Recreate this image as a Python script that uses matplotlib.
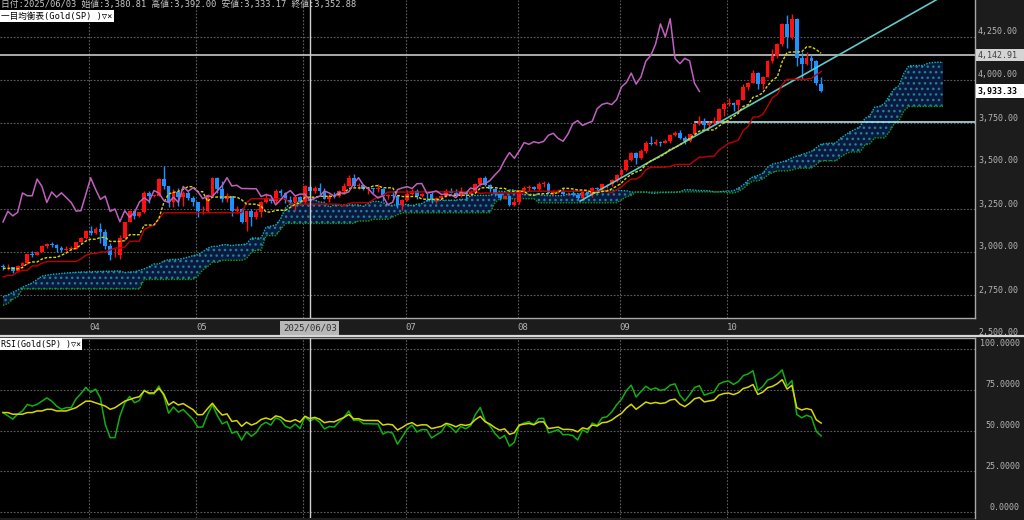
import numpy as np
import matplotlib
matplotlib.use("Agg")
import matplotlib.pyplot as plt
from matplotlib import transforms
from matplotlib.patches import Rectangle
from matplotlib.lines import Line2D

# ---------------- data (daily Gold spot, weekday index 0 = 2025/03/06) ----------------
opens = [2920, 2910, 2910, 2889, 2916, 2934, 2988, 2984, 3001, 3034, 3048, 3043, 3022, 3012, 3019, 3019, 3057, 3084,
         3124, 3113, 3134, 3114, 3037, 2982, 2982, 3082, 3175, 3237, 3210, 3230, 3343, 3327, 3327, 3424, 3381, 3288, 3349, 3319, 3344, 3316,
         3288, 3238, 3240, 3334, 3431, 3365, 3306, 3325, 3236, 3250, 3176, 3240, 3202, 3230, 3290, 3315, 3295, 3357, 3343, 3300, 3288, 3318,
         3289, 3380.81, 3353, 3373, 3352, 3310, 3326, 3323, 3355, 3386, 3432, 3384, 3388, 3369, 3369, 3368, 3368, 3323, 3333, 3327, 3274,
         3303, 3338, 3357, 3326, 3337, 3336, 3301, 3313, 3324, 3355, 3343, 3324, 3347, 3339, 3350, 3397, 3432, 3388, 3368, 3337, 3314, 3326, 3275,
         3289, 3363, 3373, 3380, 3369, 3397, 3398, 3342, 3348, 3355, 3335, 3336, 3332, 3316, 3348, 3339, 3372, 3365, 3393, 3397, 3416,
         3448, 3477, 3533, 3578, 3545, 3587, 3636, 3626, 3641, 3634, 3643, 3679, 3690, 3660, 3644, 3685, 3746, 3764, 3736, 3749, 3760, 3833,
         3858, 3866, 3857, 3886, 3960, 3985, 4040, 3976, 4018, 4110, 4142, 4209, 4326, 4251, 4356, 4125, 4095, 4126, 4111, 3977]
highs = [2930, 2930, 2915, 2923, 2940, 2990, 3005, 3004, 3038, 3055, 3057, 3047, 3034, 3033, 3032, 3060, 3087, 3128,
         3149, 3148, 3167, 3136, 3055, 3023, 3099, 3176, 3245, 3245, 3233, 3357, 3357, 3330, 3430, 3500, 3386, 3367, 3371, 3352, 3353, 3328,
         3290, 3269, 3336, 3437, 3435, 3414, 3345, 3325, 3265, 3256, 3240, 3252, 3250, 3295, 3345, 3325, 3365, 3364, 3347, 3325, 3330, 3325,
         3392, 3392.00, 3385, 3403, 3375, 3340, 3349, 3360, 3399, 3446, 3452, 3403, 3395, 3379, 3375, 3398, 3370, 3339, 3350, 3329, 3308,
         3358, 3365, 3365, 3345, 3345, 3346, 3318, 3330, 3369, 3375, 3366, 3377, 3352, 3361, 3402, 3434, 3439, 3396, 3373, 3345, 3334, 3334, 3315,
         3363, 3385, 3390, 3385, 3409, 3410, 3405, 3359, 3369, 3375, 3347, 3358, 3345, 3350, 3351, 3379, 3376, 3394, 3398, 3423, 3454,
         3490, 3540, 3580, 3580, 3600, 3646, 3675, 3658, 3643, 3655, 3685, 3703, 3707, 3675, 3686, 3750, 3791, 3778, 3761, 3783, 3835, 3872,
         3895, 3875, 3889, 3977, 3990, 4059, 4045, 4022, 4116, 4180, 4218, 4330, 4380, 4381, 4360, 4160, 4162, 4146, 4114, 4017]
lows = [2896, 2898, 2880, 2881, 2905, 2932, 2970, 2982, 2998, 3023, 3028, 3000, 3001, 3005, 3012, 3016, 3054, 3076,
        3100, 3105, 3054, 3015, 2956, 2970, 2957, 3072, 3175, 3193, 3205, 3228, 3283, 3320, 3325, 3366, 3260, 3260, 3266, 3268, 3300, 3268,
        3202, 3223, 3230, 3317, 3343, 3288, 3292, 3208, 3227, 3171, 3120, 3154, 3190, 3205, 3285, 3283, 3287, 3325, 3285, 3280, 3245, 3271,
        3280, 3333.17, 3345, 3340, 3307, 3293, 3315, 3320, 3335, 3381, 3380, 3366, 3362, 3340, 3342, 3348, 3295, 3311, 3316, 3255, 3247,
        3297, 3331, 3311, 3322, 3296, 3287, 3283, 3310, 3322, 3341, 3321, 3319, 3310, 3332, 3345, 3383, 3381, 3351, 3324, 3301, 3308, 3268, 3268,
        3281, 3346, 3356, 3359, 3363, 3380, 3341, 3331, 3343, 3331, 3330, 3323, 3311, 3312, 3325, 3322, 3351, 3351, 3370, 3385, 3408,
        3436, 3470, 3527, 3511, 3540, 3578, 3620, 3622, 3615, 3632, 3632, 3675, 3655, 3628, 3640, 3680, 3738, 3717, 3722, 3740, 3757, 3792,
        3849, 3820, 3818, 3884, 3940, 3980, 3945, 3947, 4016, 4097, 4130, 4198, 4186, 4240, 4080, 4004, 4090, 4063, 3972, 3930]
closes = [2910, 2910, 2889, 2916, 2934, 2988, 2984, 3001, 3034, 3048, 3043, 3022, 3012, 3019, 3019, 3057, 3084, 3124,
          3113, 3134, 3114, 3037, 2982, 2982, 3082, 3175, 3237, 3210, 3230, 3343, 3327, 3327, 3424, 3381, 3288, 3349, 3319, 3344, 3316, 3288,
          3238, 3240, 3334, 3431, 3365, 3306, 3325, 3236, 3250, 3176, 3240, 3202, 3230, 3290, 3315, 3295, 3357, 3343, 3300, 3288, 3318, 3289,
          3381, 3352.88, 3373, 3352, 3310, 3326, 3323, 3355, 3386, 3432, 3384, 3388, 3369, 3369, 3368, 3368, 3323, 3333, 3327, 3274, 3303,
          3338, 3357, 3326, 3337, 3336, 3301, 3313, 3324, 3355, 3343, 3324, 3347, 3339, 3350, 3397, 3432, 3388, 3368, 3337, 3314, 3326, 3275, 3289,
          3363, 3373, 3380, 3369, 3397, 3398, 3342, 3348, 3355, 3335, 3336, 3332, 3316, 3348, 3339, 3372, 3365, 3393, 3397, 3416, 3448,
          3477, 3533, 3578, 3545, 3587, 3636, 3626, 3641, 3634, 3643, 3679, 3690, 3660, 3644, 3685, 3746, 3764, 3736, 3749, 3760, 3833, 3858,
          3866, 3857, 3886, 3960, 3985, 4040, 3976, 4018, 4110, 4142, 4209, 4326, 4251, 4356, 4125, 4095, 4126, 4111, 3981, 3933.33]

tenkan_early = [2905, 2905, 2905, 2902, 2910, 2935, 2942, 2942]
kijun_early = [2855, 2864, 2864, 2885, 2894, 2894, 2919, 2919, 2935, 2944, 2945, 2945, 2945, 2945, 2945,
               2946, 2960, 2980, 2991, 2991, 3000, 3000, 3012, 3023, 3023]
span_a_early = [2738, 2750, 2765, 2779, 2795, 2808, 2820, 2840, 2860, 2865, 2870, 2872, 2875, 2878, 2880,
                2882, 2884, 2884, 2885, 2886, 2887, 2888, 2888, 2889, 2890]
span_b_early = [2690, 2700, 2725, 2740] + [2785] * 25 + [2840] * 11 + [2860, 2895, 2915, 2940, 2940] + [2952] * 5 + \
               [2962, 2998, 3010, 3010, 3095, 3095, 3095, 3131] + [3166] * 15 + [3180] * 3
rsi14_early = [61, 59, 57, 60, 62, 66, 65, 66, 68, 70, 68, 65, 63, 64]
rsi28_early = [61, 61, 60, 60, 60, 61, 61, 62, 62, 63, 63, 62, 62, 62, 63, 64, 66, 68, 68, 67, 66, 65, 63, 64, 66, 68, 69, 70]

month_labels = ["04", "05", "06", "07", "08", "09", "10"]
month_first_idx = [18, 40, 62, 83, 106, 127, 149]
price_ticks = [2500, 2750, 3000, 3250, 3500, 3750, 4000, 4250]
rsi_ticks = [0, 25, 50, 75, 100]
hline_price = 4142.91
hline2_price = 3756
hline2_start = 142
trend_x = [118.5, 200]
trend_y = [3296, 4600]
cursor_idx = 63
cursor_label = "2025/06/03"
header = "日付:2025/06/03 始値:3,380.81 高値:3,392.00 安値:3,333.17 終値:3,352.88"

# ---------------- indicators ----------------
n = len(closes)
H = np.array(highs, float); L = np.array(lows, float); C = np.array(closes, float); O = np.array(opens, float)
idx = np.arange(n)

def midp(i, p):
    return (H[i - p + 1:i + 1].max() + L[i - p + 1:i + 1].min()) / 2

tenkan = np.array([tenkan_early[i] if i < 8 else midp(i, 9) for i in range(n)])
kijun = np.array([kijun_early[i] if i < 25 else midp(i, 26) for i in range(n)])
span_a = np.concatenate([span_a_early, (tenkan + kijun) / 2])
span_b = np.concatenate([span_b_early, [midp(i, 52) for i in range(51, n)]])
span_x = np.arange(len(span_a))

def wilder_rsi(p, early):
    d = np.diff(C)
    out = list(early)
    tot = np.abs(d[:p - 1]).mean()
    g = early[-1] / 100 * tot
    l = (1 - early[-1] / 100) * tot
    for i in range(p, n):
        ch = d[i - 1]
        g = (g * (p - 1) + max(ch, 0)) / p
        l = (l * (p - 1) + max(-ch, 0)) / p
        out.append(100 * g / (g + l))
    return np.array(out)

rsi14 = wilder_rsi(14, rsi14_early)
rsi28 = wilder_rsi(28, rsi28_early)

# ---------------- figure ----------------
W, Hpx = 1024, 520
fig = plt.figure(figsize=(W / 100, Hpx / 100), dpi=100, facecolor="#1c1c1c")
plot_w = 975
ax1 = fig.add_axes([0, 1 - 318 / Hpx, plot_w / W, 318 / Hpx])
ax2 = fig.add_axes([0, 1 - 518 / Hpx, plot_w / W, 180 / Hpx])
px_per = 4.87
x0 = -3 / px_per
x1 = (plot_w - 3) / px_per
for ax in (ax1, ax2):
    ax.set_facecolor("black")
    ax.set_xlim(x0, x1)
    ax.set_xticks([]); ax.set_yticks([])
    for s in ax.spines.values():
        s.set_visible(False)
ppp = 250 / 43.0  # price per pixel
ax1.set_ylim(4000 - (318 - 80) * ppp, 4000 + 80 * ppp)
ax2.set_ylim((512 - 518) / 1.63, (512 - 338) / 1.63)

grid_kw = dict(color="#5e5e5e", lw=0.8, ls=(0, (1.5, 1.5)), zorder=1)
for p in price_ticks:
    ax1.axhline(p, **grid_kw)
for r in rsi_ticks:
    ax2.axhline(r, **grid_kw)
for fi in month_first_idx:
    ax1.axvline(fi - 0.35, **grid_kw)
    ax2.axvline(fi - 0.35, **grid_kw)

# cloud
plt.rcParams["hatch.linewidth"] = 1.0
ax1.fill_between(span_x, span_a, span_b, facecolor="#0b1a3c", edgecolor="#1f7f9f", hatch="...", lw=0, zorder=2)
ax1.plot(span_x, span_a, color="#10b8b8", lw=1.0, ls=(0, (1, 1)), zorder=3)
ax1.plot(span_x, span_b, color="#10a010", lw=1.0, ls=(0, (1, 1)), zorder=3)

# horizontal / trend lines
ax1.axhline(hline_price, color="#c8c8c8", lw=1.2, zorder=3)
ax1.plot([hline2_start, x1 + 5], [hline2_price, hline2_price], color="#a8e4e4", lw=1.2, zorder=3)
ax1.plot(trend_x, trend_y, color="#60c8c8", lw=1.2, zorder=6)

# candles
up = C >= O
colors = np.where(up, "#ff1010", "#1e90ff")
ax1.vlines(idx, L, H, colors=colors, lw=1.0, zorder=4)
body_lo = np.minimum(O, C); body_h = np.maximum(np.abs(C - O), 1.5)
ax1.bar(idx, body_h, bottom=body_lo, width=0.78, color=colors, lw=0, zorder=5)

# ichimoku lines
ax1.plot(idx, kijun, color="#c00000", lw=1.0, zorder=6)
ax1.plot(idx, tenkan, color="#d8d800", lw=1.0, ls=(0, (2, 1.2)), zorder=6)
ax1.plot(np.arange(n - 25), C[25:], color="#c060c0", lw=1.1, zorder=6)

# RSI
ax2.plot(idx, rsi14, color="#10b010", lw=1.1, zorder=4)
ax2.plot(idx, rsi28, color="#d8d800", lw=1.1, zorder=5)

# cursor line
for ax in (ax1, ax2):
    ax.axvline(cursor_idx, color="#d0d0d0", lw=1.0, zorder=7)

# borders
ax1.spines["right"].set_visible(True); ax1.spines["bottom"].set_visible(True)
ax2.spines["right"].set_visible(True); ax2.spines["top"].set_visible(True)
for ax in (ax1, ax2):
    for s in ax.spines.values():
        s.set_color("#a8a8a8"); s.set_linewidth(1.0)

mono = ["DejaVu Sans Mono", "Noto Sans CJK JP", "DejaVu Sans"]
lab_c = "#b4b4b4"
lab_fs = 6.0
# right axis labels
tr1 = transforms.blended_transform_factory(fig.transFigure, ax1.transData)
tr2 = transforms.blended_transform_factory(fig.transFigure, ax2.transData)
for p in price_ticks:
    ax1.annotate(f"{p:,.2f}", xy=(978 / W, p), xycoords=tr1, xytext=(0, 5), textcoords="offset pixels",
                 fontsize=lab_fs, family=mono, color=lab_c, va="center", ha="left", annotation_clip=False)
for r in rsi_ticks:
    ax2.annotate(f"{r:.4f}", xy=(1020 / W, r), xycoords=tr2, xytext=(0, 5), textcoords="offset pixels",
                 fontsize=lab_fs, family=mono, color=lab_c, va="center", ha="right", annotation_clip=False)

# price boxes
ax1.add_patch(Rectangle((976 / W, hline_price - 6 * ppp), 48 / W, 12 * ppp, transform=tr1,
                        facecolor="#d4d4d4", edgecolor="none", clip_on=False, zorder=8))
ax1.text(978 / W, hline_price, f"{hline_price:,.2f}", transform=tr1, fontsize=lab_fs, family=mono,
         color="#404040", va="center", ha="left", clip_on=False, zorder=9)
last = closes[-1]
ax1.add_patch(Rectangle((976 / W, last - 7 * ppp), 48 / W, 14 * ppp, transform=tr1,
                        facecolor="white", edgecolor="none", clip_on=False, zorder=8))
ax1.text(978 / W, last, f"{last:,.2f}", transform=tr1, fontsize=lab_fs, family=mono, weight="bold",
         color="black", va="center", ha="left", clip_on=False, zorder=9)

# time axis labels
trx = transforms.blended_transform_factory(ax1.transData, fig.transFigure)
for lab, fi in zip(month_labels, month_first_idx):
    if lab == "06":
        continue
    fig.text(fi - 0.35, 1 - 327 / Hpx, lab, transform=trx, fontsize=6.5, family=mono, color=lab_c,
             ha="left", va="center")
fig.text(cursor_idx, 1 - 328 / Hpx, cursor_label, transform=trx, fontsize=6.5, family=mono, color="#303030",
         ha="center", va="center", bbox=dict(boxstyle="square,pad=0.3", facecolor="#b8b8b8", edgecolor="none"))

# separator
fig.add_artist(Line2D([0, 1], [1 - 336 / Hpx, 1 - 336 / Hpx], transform=fig.transFigure, color="#d8d8d8", lw=1.6))

# header & panel titles
fig.text(1 / W, 1 - 4.5 / Hpx, header, fontsize=6.3, family=mono, color="#c8c8c8", ha="left", va="center")
fig.text(1 / W, 1 - 16 / Hpx, "一目均衡表(Gold(SP) )▽×", fontsize=6.2, family=mono, color="black", ha="left",
         va="center", bbox=dict(boxstyle="square,pad=0.15", facecolor="white", edgecolor="none"))
fig.text(1 / W, 1 - 344 / Hpx, "RSI(Gold(SP) )▽×", fontsize=6.0, family=mono, color="black", ha="left",
         va="center", bbox=dict(boxstyle="square,pad=0.15", facecolor="white", edgecolor="none"))

fig.savefig("out.png", dpi=100, facecolor=fig.get_facecolor())
